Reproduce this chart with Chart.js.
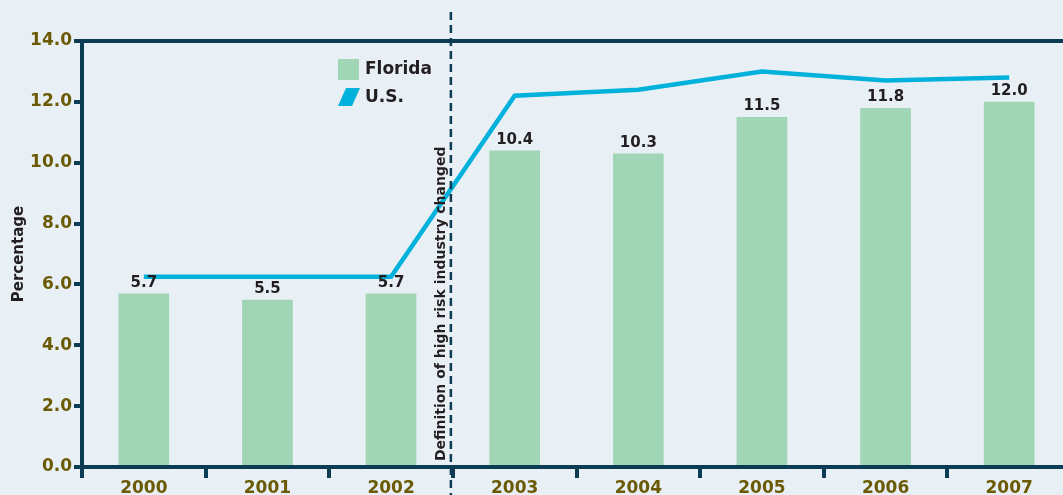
<!DOCTYPE html>
<html><head><meta charset="utf-8">
<script src="https://cdn.jsdelivr.net/npm/chart.js@4.4.1/dist/chart.umd.min.js"></script>
<style>
html,body{margin:0;padding:0;background:#e8f0f6;overflow:hidden;width:1063px;height:495px;}
#wrap{position:absolute;left:0;top:0;width:1080px;height:495px;}
</style></head><body>
<div id="wrap"><canvas id="c" width="1080" height="495"></canvas></div>
<script>
const years = ['2000','2001','2002','2003','2004','2005','2006','2007'];
const florida = [5.7, 5.5, 5.7, 10.4, 10.3, 11.5, 11.8, 12.0];
const us = [6.25, 6.25, 6.25, 12.2, 12.4, 13.0, 12.7, 12.8];
const yTicks = [0, 2, 4, 6, 8, 10, 12, 14];
const seriesNames = ['Florida', 'U.S.'];
const noteText = 'Definition of high risk industry changed';
const breakAfterIndex = 2;

const NAVY = '#0b3c54', OLIVE = '#6b5a04', GREEN = '#a0d5b5', CYAN = '#00b1dc', TXT = '#231f20';
const FONT = '"DejaVu Sans", sans-serif';

const extras = {
  id: 'extras',
  afterDatasetsDraw(chart) {
    const ctx = chart.ctx, x = chart.scales.x, ca = chart.chartArea;
    // data labels
    const meta = chart.getDatasetMeta(1);
    ctx.save();
    ctx.font = 'bold 15px ' + FONT;
    ctx.fillStyle = TXT;
    ctx.textAlign = 'center';
    ctx.textBaseline = 'bottom';
    meta.data.forEach((bar, i) => {
      ctx.fillText(florida[i].toFixed(1), bar.x, bar.y - 3);
    });
    // dashed break line
    const bx = (x.getPixelForValue(breakAfterIndex) + x.getPixelForValue(breakAfterIndex + 1)) / 2 - 2;
    ctx.strokeStyle = NAVY;
    ctx.lineWidth = 2.5;
    ctx.setLineDash([8, 5]);
    ctx.beginPath();
    ctx.moveTo(bx, 12);
    ctx.lineTo(bx, chart.height);
    ctx.stroke();
    ctx.setLineDash([]);
    // rotated note
    ctx.translate(bx - 10, ca.bottom - 6);
    ctx.rotate(-Math.PI / 2);
    ctx.font = 'bold 14px ' + FONT;
    ctx.textAlign = 'left';
    ctx.textBaseline = 'middle';
    ctx.fillStyle = TXT;
    ctx.fillText(noteText, 0, 0);
    ctx.restore();
    // legend
    ctx.save();
    const lx = 338, ly = 59;
    ctx.fillStyle = GREEN;
    ctx.fillRect(lx, ly, 21, 21);
    ctx.fillStyle = CYAN;
    ctx.beginPath();
    ctx.moveTo(lx + 8, ly + 29);
    ctx.lineTo(lx + 22, ly + 29);
    ctx.lineTo(lx + 14, ly + 47);
    ctx.lineTo(lx, ly + 47);
    ctx.closePath();
    ctx.fill();
    ctx.font = 'bold 17px ' + FONT;
    ctx.fillStyle = TXT;
    ctx.textAlign = 'left';
    ctx.textBaseline = 'middle';
    ctx.fillText(seriesNames[0], lx + 27, ly + 11);
    ctx.fillText(seriesNames[1], lx + 27, ly + 39);
    ctx.restore();
  }
};

new Chart(document.getElementById('c'), {
  data: {
    labels: years,
    datasets: [
      { type: 'line', label: seriesNames[1], data: us, borderColor: CYAN, borderWidth: 4.5,
        pointRadius: 0, tension: 0, order: 0 },
      { type: 'bar', label: seriesNames[0], data: florida, backgroundColor: GREEN,
        categoryPercentage: 0.82, barPercentage: 0.5, order: 1 }
    ]
  },
  options: {
    responsive: false,
    animation: false,
    layout: { padding: { top: 41, right: 9, left: 0, bottom: 0 } },
    plugins: { legend: { display: false }, tooltip: { enabled: false } },
    scales: {
      x: {
        grid: { offset: true, drawOnChartArea: false, color: NAVY, tickColor: NAVY, lineWidth: 4, tickLength: 11 },
        border: { color: NAVY, width: 4 },
        ticks: { color: OLIVE, font: { family: FONT, weight: 'bold', size: 17 }, padding: 0, maxRotation: 0 },
        afterFit(s) { s.height = 28; }
      },
      y: {
        min: 0, max: 14,
        afterBuildTicks(s) { s.ticks = yTicks.map(v => ({ value: v })); },
        grid: {
          color: ctx => (ctx.tick && ctx.tick.value === 14) ? NAVY : 'rgba(0,0,0,0)',
          lineWidth: 4, tickColor: NAVY, tickLength: 8, drawOnChartArea: true
        },
        border: { color: NAVY, width: 4 },
        ticks: { color: OLIVE, font: { family: FONT, weight: 'bold', size: 17 }, padding: 2,
          callback: v => Number(v).toFixed(1) },
        title: { display: true, text: 'Percentage', color: TXT, font: { family: FONT, weight: 'bold', size: 15 }, padding: { top: 10, bottom: 4 } },
        afterFit(s) { s.width = 82; }
      }
    }
  },
  plugins: [extras]
});
</script>
</body></html>
